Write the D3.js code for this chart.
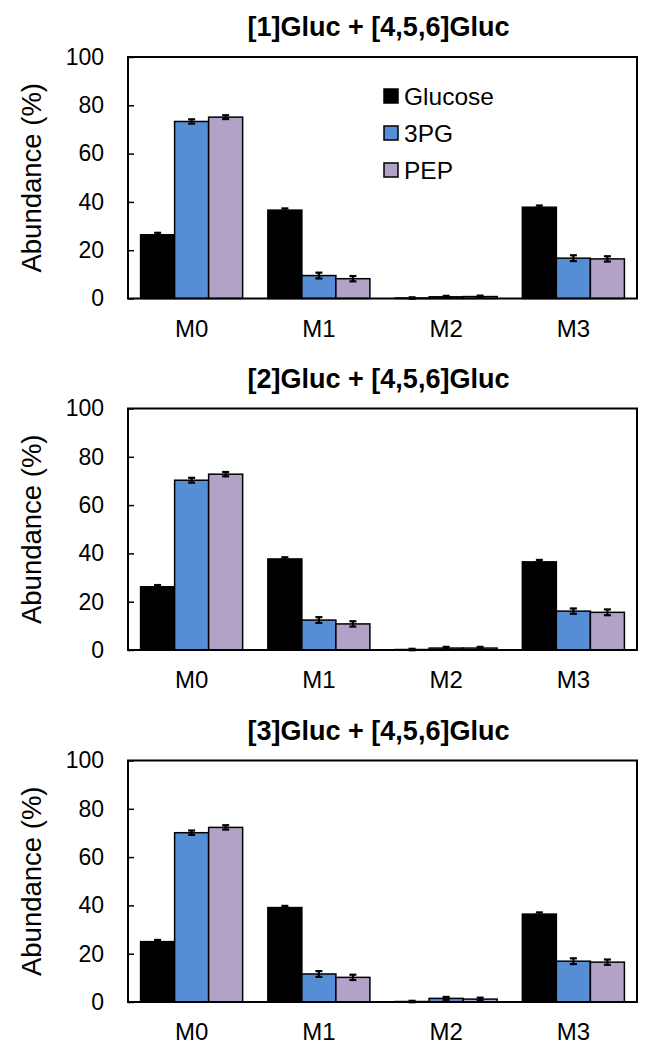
<!DOCTYPE html>
<html><head><meta charset="utf-8">
<script src="https://cdn.jsdelivr.net/npm/d3@7"></script>
<style>
html,body{margin:0;padding:0;background:#fff;}
svg{display:block;font-family:"Liberation Sans",Arial,sans-serif;}
</style></head>
<body>
<svg id="chart" width="656" height="1050"></svg>
<script>
const categories = ["M0","M1","M2","M3"];
const seriesNames = ["Glucose","3PG","PEP"];
const seriesColors = ["#000000","#558ED5","#B3A2C7"];
const yTicks = [0,20,40,60,80,100];
const panelTitles = ["[1]Gluc + [4,5,6]Gluc","[2]Gluc + [4,5,6]Gluc","[3]Gluc + [4,5,6]Gluc"];

// Panel 1
const p1Glucose = [26.4, 36.6, 0.2, 37.8];
const p1PG3     = [73.3, 9.5, 0.7, 16.7];
const p1PEP     = [75.1, 8.2, 0.8, 16.4];
const p1GlucoseErr = [0.8, 0.7, 0.3, 0.7];
const p1PG3Err     = [0.9, 1.2, 0.4, 1.2];
const p1PEPErr     = [0.8, 1.1, 0.4, 1.1];
// Panel 2
const p2Glucose = [26.2, 37.7, 0.2, 36.5];
const p2PG3     = [70.3, 12.4, 0.8, 16.1];
const p2PEP     = [72.8, 10.8, 0.8, 15.6];
const p2GlucoseErr = [0.7, 0.7, 0.3, 0.8];
const p2PG3Err     = [1.0, 1.2, 0.5, 1.1];
const p2PEPErr     = [0.9, 1.1, 0.5, 1.2];
// Panel 3
const p3Glucose = [25.0, 39.1, 0.2, 36.4];
const p3PG3     = [70.1, 11.6, 1.5, 16.9];
const p3PEP     = [72.3, 10.2, 1.2, 16.5];
const p3GlucoseErr = [0.7, 0.7, 0.3, 0.7];
const p3PG3Err     = [0.9, 1.2, 0.6, 1.2];
const p3PEPErr     = [0.9, 1.1, 0.6, 1.1];

const panels = [
  {title: panelTitles[0], values:[p1Glucose,p1PG3,p1PEP], errs:[p1GlucoseErr,p1PG3Err,p1PEPErr], legend:true},
  {title: panelTitles[1], values:[p2Glucose,p2PG3,p2PEP], errs:[p2GlucoseErr,p2PG3Err,p2PEPErr], legend:false},
  {title: panelTitles[2], values:[p3Glucose,p3PG3,p3PEP], errs:[p3GlucoseErr,p3PG3Err,p3PEPErr], legend:false}
];

const svg = d3.select("#chart");
const left = 128, right = 637;
const tops = [57, 408.5, 760.5];
const plotH = 241.5;

const x = d3.scaleBand().domain(categories).range([left,right]).paddingInner(0.198).paddingOuter(0.099);
const xs = d3.scaleBand().domain(seriesNames).range([0, x.bandwidth()]).padding(0);

panels.forEach((p,pi)=>{
  const top = tops[pi], bottom = top + plotH;
  const y = d3.scaleLinear().domain([0,100]).range([bottom, top]);
  const g = svg.append("g");

  // title
  g.append("text").attr("x",(left+right)/2 - 4).attr("y",top-21)
    .attr("text-anchor","middle").attr("font-weight","bold").attr("font-size",27)
    .attr("fill","#000").text(p.title);

  // bars
  const data = [];
  categories.forEach((c,ci)=>seriesNames.forEach((s,si)=>{
    data.push({c, s, si, v:p.values[si][ci], e:p.errs[si][ci]});
  }));
  g.selectAll("rect.bar").data(data).enter().append("rect")
    .attr("class","bar")
    .attr("x",d=>x(d.c)+xs(d.s))
    .attr("y",d=>y(d.v))
    .attr("width",xs.bandwidth())
    .attr("height",d=>y(0)-y(d.v))
    .attr("fill",d=>seriesColors[d.si])
    .attr("stroke","#000").attr("stroke-width",1.5);

  // error bars
  const eg = g.selectAll("g.err").data(data).enter().append("g").attr("class","err");
  const cx = d=>x(d.c)+xs(d.s)+xs.bandwidth()/2;
  eg.append("line").attr("x1",cx).attr("x2",cx)
    .attr("y1",d=>y(d.v-d.e)).attr("y2",d=>y(d.v+d.e))
    .attr("stroke","#000").attr("stroke-width",2.2);
  [-1,1].forEach(sg=>{
    eg.append("line").attr("x1",d=>cx(d)-3.5).attr("x2",d=>cx(d)+3.5)
      .attr("y1",d=>y(d.v+sg*d.e)).attr("y2",d=>y(d.v+sg*d.e))
      .attr("stroke","#000").attr("stroke-width",2.2);
  });

  // frame
  g.append("rect").attr("x",left).attr("y",top).attr("width",right-left).attr("height",plotH)
    .attr("fill","none").attr("stroke","#000").attr("stroke-width",2);

  // y axis
  const yAxis = d3.axisLeft(y).tickValues(yTicks).tickSize(-6).tickPadding(24);
  const ya = g.append("g").attr("transform",`translate(${left},0)`).call(yAxis);
  ya.select(".domain").remove();
  ya.selectAll(".tick line").attr("stroke","#000").attr("stroke-width",1.5);
  ya.selectAll(".tick text").attr("font-size",23).attr("fill","#000")
    .attr("font-family","'Liberation Sans',Arial,sans-serif");

  // x axis labels
  const xAxis = d3.axisBottom(x).tickSize(0).tickPadding(21);
  const xa = g.append("g").attr("transform",`translate(0,${bottom})`).call(xAxis);
  xa.select(".domain").remove();
  xa.selectAll(".tick text").attr("font-size",24).attr("fill","#000")
    .attr("font-family","'Liberation Sans',Arial,sans-serif");

  // y title
  g.append("text").attr("transform",`translate(31,${(top+bottom)/2}) rotate(-90)`)
    .attr("text-anchor","middle").attr("dominant-baseline","central")
    .attr("font-size",27.5).attr("fill","#000").text("Abundance (%)");

  // legend
  if(p.legend){
    const lg = g.append("g");
    seriesNames.forEach((s,si)=>{
      const cy = 96 + si*37;
      lg.append("rect").attr("x",384).attr("y",cy-7).attr("width",14).attr("height",14)
        .attr("fill",seriesColors[si]).attr("stroke","#000").attr("stroke-width",1.5);
      lg.append("text").attr("x",404).attr("y",cy).attr("dominant-baseline","central")
        .attr("font-size",24.5).attr("fill","#000").text(s);
    });
  }
});
</script>
</body></html>
